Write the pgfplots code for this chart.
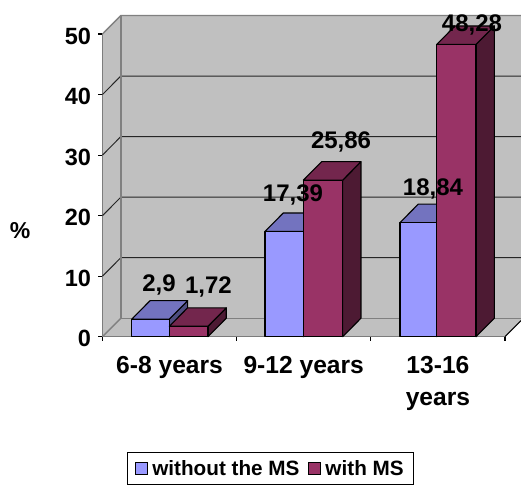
\documentclass[border=0pt]{standalone}
\usepackage{fontspec}
\setmainfont{Liberation Sans}
\usepackage{pgfplots}
\pgfplotsset{compat=1.18}
\definecolor{wallgray}{HTML}{C0C0C0}
\definecolor{edgegray}{HTML}{808080}
\definecolor{nomsfront}{HTML}{9999FF}
\definecolor{nomstop}{HTML}{7373BF}
\definecolor{nomsside}{HTML}{4D4D80}
\definecolor{msfront}{HTML}{993366}
\definecolor{mstop}{HTML}{73264D}
\definecolor{msside}{HTML}{4D1A33}
% depth of the oblique projection, in data units
\def\depthx{0.1364}
\def\depthy{3.05}
% one box: left edge, right edge, value, front, top and side colours
\newcommand{\boxbar}[6]{%
  \pgfmathsetmacro{\xl}{#1+\depthx}%
  \pgfmathsetmacro{\xr}{#2+\depthx}%
  \pgfmathsetmacro{\vt}{#3+\depthy}%
  \addplot[fill=#6,draw=black,line width=1.1pt,line join=round] coordinates {(#2,0) (\xr,\depthy) (\xr,\vt) (#2,#3)} --cycle;
  \addplot[fill=#5,draw=black,line width=1.1pt,line join=round] coordinates {(#1,#3) (\xl,\vt) (\xr,\vt) (#2,#3)} --cycle;
  \addplot[fill=#4,draw=black,line width=1.1pt,line join=round] coordinates {(#1,0) (#1,#3) (#2,#3) (#2,0)} --cycle;
}
% one grid level: slanted piece on the side wall and line across the back wall
\newcommand{\gridlevel}[1]{%
  \pgfmathsetmacro{\vt}{#1+\depthy}%
  \addplot[draw=black!85,line width=1pt] coordinates {(0,#1) (\depthx,\vt) (3.119,\vt)};
}
\tikzset{vallabel/.style={font=\fontsize{24}{26}\selectfont\bfseries,inner sep=0pt}}
\begin{document}
\begin{tikzpicture}[x=1pt,y=1pt]
\useasboundingbox (0,0) rectangle (521,485);
\begin{axis}[
  at={(102.5pt,148.3pt)},anchor=south west,
  scale only axis,width=402.5pt,height=302.7pt,
  xmin=0,xmax=3,ymin=0,ymax=50,clip=false,
  axis x line*=bottom,axis y line*=left,
  x axis line style={draw=black,line width=1.1pt,-},
  y axis line style={draw=black!65,line width=1.2pt,-},
  tick style={draw=black,line width=1.1pt},
  tick align=outside,major tick length=4pt,
  xtick={0,1,2,3},xticklabels={},
  extra x ticks={0.5,1.5,2.5},
  extra x tick labels={6-8 years,9-12 years,{13-16\\years}},
  extra x tick style={major tick length=0pt,
    xticklabel style={align=center,yshift=-16.5pt,
      font=\fontsize{24.6}{32}\selectfont\bfseries}},
  ytick={0,10,20,30,40,50},
  /pgf/number format/assume math mode=true,
  yticklabel style={font=\fontsize{23.5}{26}\selectfont\bfseries,xshift=-4pt,yshift=-2pt},
  ylabel={\%},
  every axis y label/.style={at={(rel axis cs:-0.205,0.349)},anchor=center,
    font=\fontsize{23}{26}\selectfont\bfseries},
  legend columns=2,
  legend style={at={(rel axis cs:0.4174,-0.381)},anchor=north,
    draw=black,line width=1.1pt,inner xsep=8pt,inner ysep=5.5pt,
    font=\fontsize{20.7}{24}\selectfont\bfseries,
    /tikz/every even column/.append style={column sep=7pt},
    cells={anchor=west}},
  legend image code/.code={\path (14pt,0pt);\draw[#1,line width=0.9pt] (0pt,-6pt) rectangle (12pt,6pt);},
]
\addlegendimage{fill=nomsfront,draw=black}
\addlegendentry{without the MS}
\addlegendimage{fill=msfront,draw=black}
\addlegendentry{with MS}

% side wall, floor and back wall
\addplot[fill=wallgray,draw=none] coordinates {(0,0) (0.1364,3.05) (0.1364,53.05) (0,50)} --cycle;
\addplot[fill=wallgray,draw=none] coordinates {(0,0) (0.1364,3.05) (3.119,3.05) (3.119,2.66) (3,0)} --cycle;
\addplot[fill=wallgray,draw=none] coordinates {(0.1364,3.05) (0.1364,53.05) (3.119,53.05) (3.119,3.05)} --cycle;

\gridlevel{10}
\gridlevel{20}
\gridlevel{30}
\gridlevel{40}
\addplot[draw=edgegray,line width=1.4pt] coordinates {(0,50) (0.1364,53.05) (3.119,53.05)};
\addplot[draw=edgegray,line width=1.4pt] coordinates {(0.1364,53.05) (0.1364,3.05) (3.119,3.05)};
\addplot[draw=edgegray,line width=1.4pt] coordinates {(0,0) (0.1364,3.05)};
\addplot[draw=black,line width=1.1pt] coordinates {(3,0) (3.119,2.66)};

% bars, age groups left to right
\boxbar{0.218}{0.498}{2.9}{nomsfront}{nomstop}{nomsside}
\boxbar{0.498}{0.786}{1.72}{msfront}{mstop}{msside}
\boxbar{1.211}{1.497}{17.39}{nomsfront}{nomstop}{nomsside}
\boxbar{1.497}{1.790}{25.86}{msfront}{mstop}{msside}
\boxbar{2.217}{2.491}{18.84}{nomsfront}{nomstop}{nomsside}
\boxbar{2.491}{2.784}{48.28}{msfront}{mstop}{msside}

% value labels
\node[vallabel] at (axis cs:0.421,8.62) {2,9};
\node[vallabel] at (axis cs:0.789,8.29) {1,72};
\node[vallabel] at (axis cs:1.420,23.49) {17,39};
\node[vallabel] at (axis cs:1.778,32.24) {25,86};
\node[vallabel] at (axis cs:2.463,24.48) {18,84};
\node[vallabel] at (axis cs:2.754,51.55) {48,28};
\end{axis}
\end{tikzpicture}
\end{document}
